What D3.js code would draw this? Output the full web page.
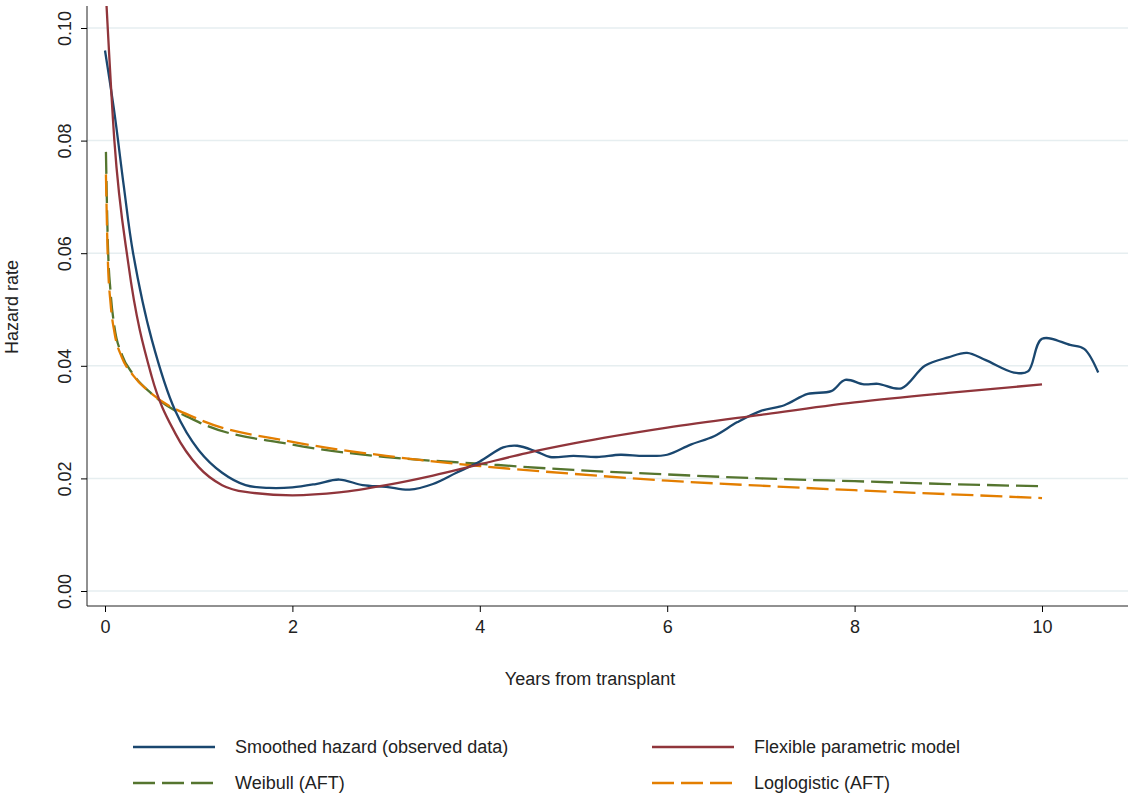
<!DOCTYPE html><html><head><meta charset="utf-8"><script src="https://cdn.jsdelivr.net/npm/d3@7"></script>
<style>body{margin:0;background:#fff}text{font-family:"Liberation Sans",Arial,sans-serif;fill:#222}</style></head><body><svg id="c" width="1129" height="800"></svg><script>
const smoothX=[0,0.1,0.2,0.3,0.5,0.75,1,1.25,1.5,1.75,2,2.25,2.5,2.75,3,3.25,3.5,3.75,4,4.25,4.4,4.6,4.75,5,5.25,5.5,5.75,6,6.25,6.5,6.75,7,7.25,7.5,7.75,7.9,8.1,8.25,8.5,8.75,9,9.2,9.4,9.7,9.85,10,10.3,10.45,10.6];
const smoothY=[0.096,0.085,0.072,0.060,0.0446,0.032,0.025,0.021,0.0188,0.0183,0.0184,0.019,0.0198,0.0188,0.0185,0.018,0.019,0.021,0.023,0.0255,0.0258,0.0248,0.0238,0.024,0.0238,0.0242,0.024,0.0242,0.026,0.0275,0.030,0.032,0.033,0.035,0.0355,0.0375,0.0367,0.0368,0.036,0.040,0.0415,0.0423,0.041,0.0388,0.039,0.0448,0.0437,0.043,0.0388];
const flexX=[0.01,0.1,0.25,0.5,0.75,1,1.25,1.5,2,2.5,3,3.5,4,4.5,5,6,7,8,9,10];
const flexY=[0.106,0.08,0.058,0.038,0.028,0.022,0.0188,0.0176,0.017,0.0175,0.0188,0.0205,0.0225,0.0245,0.0262,0.029,0.0313,0.0335,0.0352,0.0367];
const modX=[0.01,0.03,0.06,0.1,0.18,0.3,0.5,1,2,3,4,5,6,7,8,9,10];
const weibY=[0.078,0.062,0.053,0.047,0.042,0.0385,0.035,0.030,0.026,0.0238,0.0226,0.0215,0.0207,0.0200,0.0195,0.019,0.0186];
const llogY=[0.074,0.059,0.051,0.046,0.0415,0.0383,0.035,0.0305,0.0265,0.024,0.0222,0.0208,0.0196,0.0187,0.0179,0.0172,0.0165];
const xTicks=[0,2,4,6,8,10], yTicks=[0,0.02,0.04,0.06,0.08,0.10];
const svg=d3.select("#c");
const x=d3.scaleLinear().domain([0,10]).range([105,1042]);
const y=d3.scaleLinear().domain([0,0.1]).range([591,28]);
const L=87,R=1128,T=6,B=606;
svg.append("clipPath").attr("id","cp").append("rect").attr("x",L).attr("y",T).attr("width",R-L).attr("height",B-T);
svg.selectAll(".g").data(yTicks).join("line").attr("x1",L).attr("x2",R).attr("y1",d=>y(d)).attr("y2",d=>y(d)).attr("stroke","#e6eef0").attr("stroke-width",1.5);
const ya=svg.append("g").attr("transform",`translate(${L},0)`).call(d3.axisLeft(y).tickValues(yTicks).tickFormat(d3.format(".2f")).tickSize(6).tickSizeOuter(0));
ya.select(".domain").attr("d",`M0,${T}V${B}`).attr("stroke","#222");
ya.selectAll(".tick text").attr("x",0).attr("y",0).attr("dy",0).attr("text-anchor","middle").style("font-size","18px").attr("transform","translate(-16,0) rotate(-90)");
const xa=svg.append("g").attr("transform",`translate(0,${B})`).call(d3.axisBottom(x).tickValues(xTicks).tickSize(6).tickSizeOuter(0));
xa.select(".domain").attr("d",`M${L},0H${R}`).attr("stroke","#222");
xa.selectAll("text").style("font-size","18px").attr("dy","1em");
svg.append("text").attr("x",590).attr("y",685).attr("text-anchor","middle").style("font-size","18px").text("Years from transplant");
svg.append("text").attr("transform","translate(18,307) rotate(-90)").attr("text-anchor","middle").style("font-size","18px").text("Hazard rate");
const g=svg.append("g").attr("clip-path","url(#cp)");
function draw(xs,ys,col,dash,curve){g.append("path").attr("d",d3.line().x((d,i)=>x(xs[i])).y(d=>y(d)).curve(curve)(ys)).attr("fill","none").attr("stroke",col).attr("stroke-width",2.3).attr("stroke-dasharray",dash);}
draw(modX,weibY,"#55752f","22,7",d3.curveMonotoneX);
draw(modX,llogY,"#e37e00","22,7",d3.curveMonotoneX);
draw(smoothX,smoothY,"#1a476f",null,d3.curveCatmullRom);
draw(flexX,flexY,"#90353b",null,d3.curveMonotoneX);
const leg=[["Smoothed hazard (observed data)","#1a476f",null,133,747],["Flexible parametric model","#90353b",null,652,747],["Weibull (AFT)","#55752f","22,7",133,783],["Loglogistic (AFT)","#e37e00","22,7",652,783]];
leg.forEach(([t,c,da,lx,ly])=>{svg.append("line").attr("x1",lx).attr("x2",lx+82).attr("y1",ly).attr("y2",ly).attr("stroke",c).attr("stroke-width",2.3).attr("stroke-dasharray",da);
svg.append("text").attr("x",lx+102).attr("y",ly+6).style("font-size","18px").text(t);});
</script></body></html>
